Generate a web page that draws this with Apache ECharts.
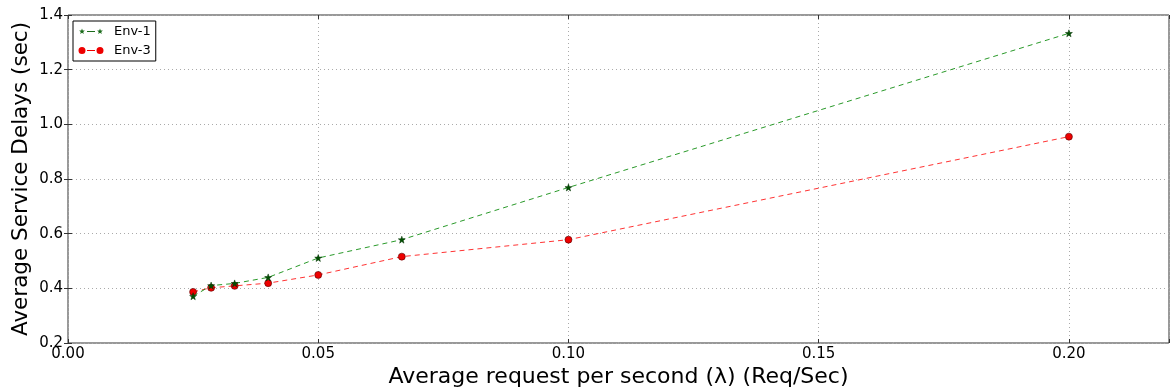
<!DOCTYPE html>
<html><head><meta charset="utf-8">
<script src="https://cdn.jsdelivr.net/npm/echarts@6/dist/echarts.min.js"></script>
<style>html,body{margin:0;padding:0;background:#fff}#c{width:1174px;height:392px}</style>
</head><body><div id="c"></div>
<script>
const xValues = [0.025, 0.0286, 0.0333, 0.04, 0.05, 0.0667, 0.1, 0.2];
const env1 = [0.371, 0.41, 0.418, 0.44, 0.511, 0.578, 0.769, 1.333];
const env3 = [0.387, 0.402, 0.409, 0.419, 0.449, 0.516, 0.578, 0.955];
const xTicks = ['0.00', '0.05', '0.10', '0.15', '0.20'];
const yTicks = ['0.2', '0.4', '0.6', '0.8', '1.0', '1.2', '1.4'];

const font = 'DejaVu Sans';

function starPts(cx, cy, R, r) {
  let s = '';
  for (let k = 0; k < 10; k++) {
    const a = -Math.PI / 2 + k * Math.PI / 5;
    const rad = k % 2 === 0 ? R : r;
    s += (k === 0 ? 'M' : 'L') + (cx + rad * Math.cos(a)).toFixed(2) + ',' + (cy + rad * Math.sin(a)).toFixed(2) + ' ';
  }
  return s + 'Z ';
}
function circ(cx, cy, r) {
  return `M${cx - r},${cy} A${r},${r} 0 1,0 ${cx + r},${cy} A${r},${r} 0 1,0 ${cx - r},${cy} Z `;
}
const starSymbol = 'path://' + starPts(50, 50, 50, 20);
// legend icons: marker - dash - marker, in a 26x8 box
const legStar = 'path://' + starPts(4, 4, 3, 1.3) + 'M9,3.5 L17,3.5 L17,4.5 L9,4.5 Z ' + starPts(22, 4, 3, 1.3) + 'M0,0 L0.01,0 Z M26,8 L25.99,8 Z';
const legCirc = 'path://' + circ(4, 4, 3.5) + 'M9,3.5 L17,3.5 L17,4.5 L9,4.5 Z ' + circ(22, 4, 3.5) + 'M0,0 L0.01,0 Z M26,8 L25.99,8 Z';

const chart = echarts.init(document.getElementById('c'));
const tickStyle = {show: true, inside: true, length: 4, lineStyle: {color: '#333'}};
chart.setOption({
  animation: false,
  textStyle: {fontFamily: font},
  grid: {left: 68, right: 5, top: 15, bottom: 49, show: true, borderColor: '#333', borderWidth: 1,
    backgroundColor: '#fff', containLabel: false, outerBoundsMode: 'none'},
  legend: {
    left: 73, top: 21, orient: 'vertical', itemGap: 4, itemWidth: 26, itemHeight: 8,
    padding: [3, 5, 3, 5],
    borderColor: '#000', borderWidth: 1, backgroundColor: '#fff', borderRadius: 0,
    textStyle: {fontFamily: font, fontSize: 13, color: '#000', padding: [0, 0, 0, 5], lineHeight: 15},
    data: [
      {name: 'Env-1', icon: legStar, itemStyle: {color: '#1a6b1a', borderWidth: 0}},
      {name: 'Env-3', icon: legCirc, itemStyle: {color: '#ee0000', borderWidth: 0}}
    ]
  },
  xAxis: [{
    type: 'value', min: 0, max: 0.22, interval: 0.05,
    axisLine: {show: false},
    axisTick: tickStyle,
    splitLine: {show: true, lineStyle: {color: '#aaa', type: [1, 3], width: 1}},
    axisLabel: {color: '#000', fontSize: 15, fontFamily: font, margin: 4,
      formatter: v => { const i = Math.round(v / 0.05); return (Math.abs(v - i*0.05) < 1e-9 && xTicks[i]) ? xTicks[i] : ''; }},
    name: 'Average request per second (λ) (Req/Sec)', nameLocation: 'middle', nameGap: 23, nameMoveOverlap: false,
    nameTextStyle: {fontSize: 22, color: '#000', fontFamily: font, verticalAlign: 'top'}
  }, {
    type: 'value', position: 'top', min: 0, max: 0.22, interval: 0.05,
    axisLine: {show: false}, axisTick: tickStyle, splitLine: {show: false}, axisLabel: {show: false}
  }],
  yAxis: [{
    type: 'value', min: 0.2, max: 1.4, interval: 0.2,
    axisLine: {show: false},
    axisTick: tickStyle,
    splitLine: {show: true, lineStyle: {color: '#aaa', type: [1, 3], width: 1}},
    axisLabel: {color: '#000', fontSize: 15, fontFamily: font, margin: 5,
      formatter: v => { const i = Math.round((v - 0.2) / 0.2); return yTicks[i] || ''; }},
    name: 'Average Service Delays (sec)', nameLocation: 'middle', nameGap: 36, nameMoveOverlap: false,
    nameTextStyle: {fontSize: 21.5, color: '#000', fontFamily: font}
  }, {
    type: 'value', position: 'right', min: 0.2, max: 1.4, interval: 0.2,
    axisLine: {show: false}, axisTick: tickStyle, splitLine: {show: false}, axisLabel: {show: false}
  }],
  series: [
    {
      name: 'Env-1', type: 'line', xAxisIndex: 0, yAxisIndex: 0, data: xValues.map((x, i) => [x, env1[i]]),
      symbol: starSymbol, symbolSize: 7,
      lineStyle: {color: '#2a9a2a', width: 1, type: [5, 4]},
      itemStyle: {color: '#005000', borderColor: '#003000', borderWidth: 0.5},
      z: 3
    },
    {
      name: 'Env-3', type: 'line', xAxisIndex: 0, yAxisIndex: 0, data: xValues.map((x, i) => [x, env3[i]]),
      symbol: 'circle', symbolSize: 7,
      lineStyle: {color: '#ff3333', width: 1, type: [5, 4]},
      itemStyle: {color: '#ee0000', borderColor: '#550000', borderWidth: 0.6},
      z: 2
    }
  ]
});
</script></body></html>
